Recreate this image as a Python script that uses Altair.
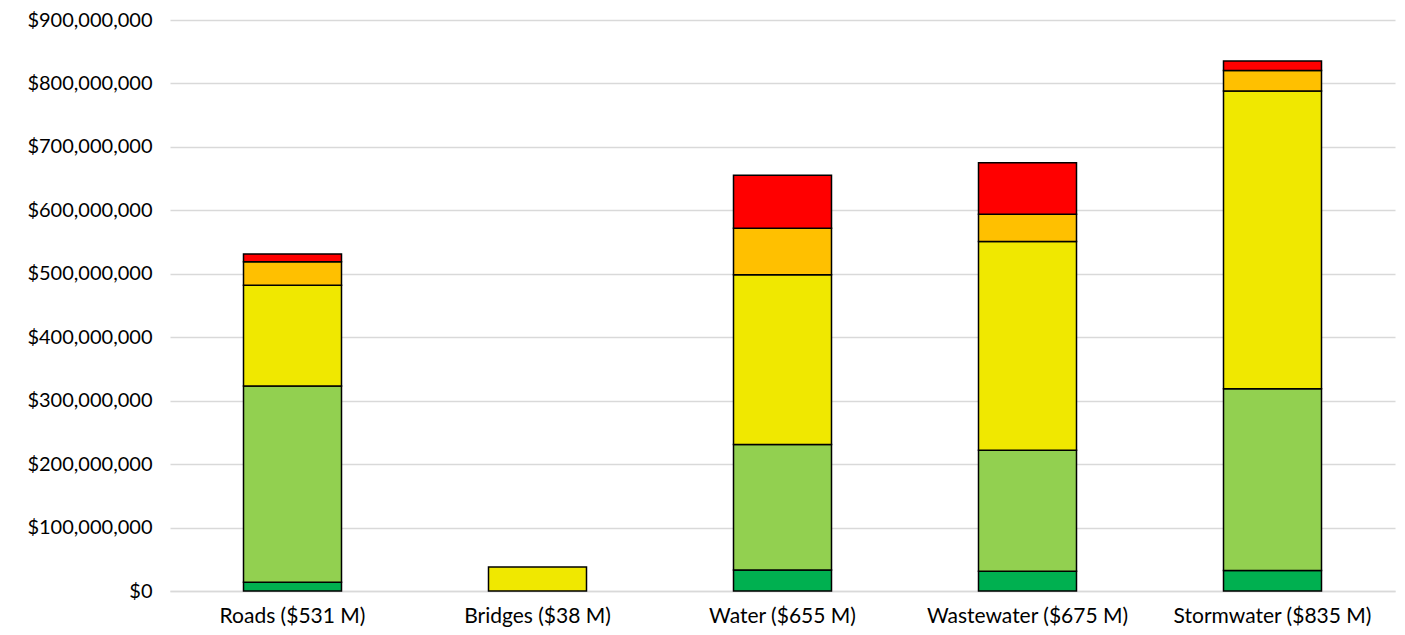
import altair as alt
import pandas as pd

categories = ["Roads ($531 M)", "Bridges ($38 M)", "Water ($655 M)", "Wastewater ($675 M)", "Stormwater ($835 M)"]
conditions = ["Very Good", "Good", "Fair", "Poor", "Very Poor"]
colors = ["#00B050", "#92D050", "#F0E800", "#FFC000", "#FF0000"]

very_good = [13.6e6, 0, 33e6, 31e6, 32.5e6]
good = [309.4e6, 0, 198e6, 191e6, 286.3e6]
fair = [159e6, 38e6, 267.6e6, 329e6, 469.4e6]
poor = [37e6, 0, 73.2e6, 43e6, 32.3e6]
very_poor = [12e6, 0, 83.6e6, 81e6, 14.7e6]

series = [very_good, good, fair, poor, very_poor]
rows = []
for ci, (cond, vals) in enumerate(zip(conditions, series)):
    for cat, v in zip(categories, vals):
        if v > 0:
            rows.append({"Asset": cat, "Condition": cond, "Order": ci, "Value": v})
df = pd.DataFrame(rows)

FONT = "Lato"

chart = alt.Chart(df).mark_bar(stroke="black", strokeWidth=1.5).encode(
    x=alt.X("Asset:N", sort=categories, title=None,
            scale=alt.Scale(paddingInner=0.6, paddingOuter=0.3),
            axis=alt.Axis(labelAngle=0, labelFontSize=21, labelFont=FONT, labelColor="black",
                          labelLimit=400,
                          ticks=False, domainColor="#d9d9d9", domainWidth=1.5, labelPadding=14)),
    y=alt.Y("Value:Q", stack="zero", title=None,
            scale=alt.Scale(domain=[0, 900e6], nice=False),
            axis=alt.Axis(values=[i * 100e6 for i in range(10)], format="$,.0f",
                          labelFontSize=20, labelFont=FONT, labelColor="black",
                          ticks=False, domain=False, gridColor="#d9d9d9", gridWidth=1.5,
                          labelPadding=18)),
    color=alt.Color("Condition:N", scale=alt.Scale(domain=conditions, range=colors), legend=None),
    order=alt.Order("Order:Q"),
).properties(
    width=1225, height=571,
    autosize=alt.AutoSizeParams(type="none"),
    padding={"left": 162, "top": 12, "right": 2, "bottom": 40},
).configure_view(stroke=None)

chart.save("out.html", embed_options={"renderer": "svg", "actions": False})
